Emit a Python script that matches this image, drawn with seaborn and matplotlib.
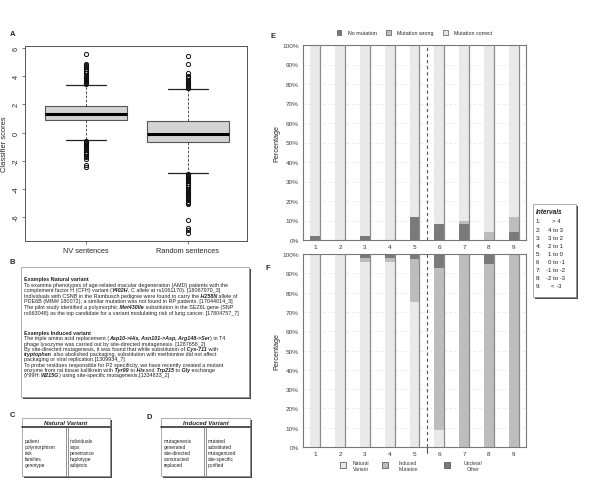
import matplotlib
matplotlib.use("Agg")
import matplotlib.pyplot as plt
import seaborn as sns
import pandas as pd
from matplotlib.patches import Rectangle, Patch

W, H = 600, 481

# ---- panel A: classifier score boxplots (summary)
groups = ["NV sentences", "Random sentences"]
q1 = [0.9, -0.65]
med = [1.35, -0.1]
q3 = [1.9, 0.85]
whislo = [-0.55, -2.9]
whishi = [3.4, 3.1]
fliers_nv = [3.45, 3.5, 3.6, 3.65, 3.75, 3.8, 3.9, 3.95, 4.05, 4.1, 4.2, 4.25,
             4.35, 4.4, 4.5, 4.55, 4.65, 4.7, 4.8, 4.85, 5.6,
             -0.6, -0.65, -0.75, -0.8, -0.9, -0.95, -1.05, -1.1, -1.2, -1.25,
             -1.35, -1.4, -1.5, -1.55, -1.65, -1.75, -1.85, -2.3, -2.45]
fliers_rand = [3.15, 3.2, 3.3, 3.35, 3.45, 3.5, 3.6, 3.65, 3.75, 3.85, 3.95,
               4.05, 4.2, 4.85, 5.45,
               -2.95, -3.0, -3.1, -3.15, -3.25, -3.3, -3.4, -3.45, -3.55, -3.6,
               -3.7, -3.75, -3.85, -3.9, -4.0, -4.05, -4.15, -4.2, -4.3, -4.35,
               -4.45, -4.5, -4.6, -4.65, -4.75, -4.8, -4.9, -5.0, -5.1,
               -6.2, -6.8, -6.95, -7.1]

# ---- panel B: example sentences (b = bold, bi = bold italic)
natural_lines = [
    [("Examples Natural variant", "b")],
    [("To examine phenotypes of age-related macular degeneration (AMD) patients with the", "")],
    [("complement factor H (CFH) variant (", ""), ("Y402H", "bi"), (", C allele at rs1061170). [18067970_3]", "")],
    [("Individuals with CSNB in the Rambusch pedigree were found to carry the ", ""), ("H258N", "bi"), (" allele of", "")],
    [("PDE6B (MIM# 180072); a similar mutation was not found in RP patients. [17044014_3]", "")],
    [("The pilot study identified a polymorphic ", ""), ("Met430Ile", "bi"), (" substitution in the SEZ6L gene (SNP", "")],
    [("rs663048) as the top candidate for a variant modulating risk of lung cancer. [17804757_7]", "")],
]
induced_lines = [
    [("Examples Induced variant", "b")],
    [("The triple amino acid replacement (", ""), ("Asp10->His, Asn101->Asp, Arg148->Ser", "bi"), (") in T4", "")],
    [("phage lysozyme was carried out by site-directed mutagenesis. [1287658_2]", "")],
    [("By site-directed mutagenesis, it was found that while substitution of ", ""), ("Cys-711", "bi"), (" with", "")],
    [("tryptophan", "bi"), (" also abolished packaging, substitution with methionine did not affect", "")],
    [("packaging or viral replication.[1309934_7]", "")],
    [("To probe residues responsible for P2 specificity, we have recently created a mutant", "")],
    [("enzyme from rat tissue kallikrein with ", ""), ("Tyr99", "bi"), (" to ", ""), ("His", "bi"),
     (" and ", ""), ("Trp215", "bi"), (" to ", ""), ("Gly", "bi"), (" exchange", "")],
    [("(Y99H:", ""), ("W215G", "bi"), (") using site-specific mutagenesis.[1334833_2]", "")],
]

# ---- panels C, D: top words
nv_words_1 = ["patient", "polymorphism", "risk", "families", "genotype"]
nv_words_2 = ["individuals", "snps", "penetrance", "haplotype", "subjects"]
im_words_1 = ["mutagenesis", "generated", "site-directed", "constructed", "replaced"]
im_words_2 = ["mutated", "substituted", "mutagenized", "site-specific", "purified"]

# ---- panel E / F: percentages per score interval
intervals = ["1", "2", "3", "4", "5", "6", "7", "8", "9"]
no_mutation = [2, 0, 2, 0, 12, 8, 8, 0, 4]
mutation_wrong = [0, 0, 0, 0, 0, 0, 2, 4, 8]
mutation_correct = [98, 100, 98, 100, 88, 92, 90, 96, 88]

natural_variant = [100, 100, 96, 96, 75, 9, 0, 0, 0]
induced_mutation = [0, 0, 2, 2, 22.5, 84, 100, 95, 100]
unclear_other = [0, 0, 2, 2, 2.5, 7, 0, 5, 0]
f_labels = ["Natural\nVariant", "Induced\nMutation", "Unclear/\nOther"]

interval_names = ["> 4", "4 to 3", "3 to 2", "2 to 1", "1 to 0",
                  "0 to -1", "-1 to -2", "-2 to -3", "< -3"]
interval_keys = ["1:", "2:", "3:", "4:", "5:", "6", "7:", "8:", "9:"]

DARK, MID, LIGHT = "#7a7a7a", "#bdbdbd", "#e9e9e9"

sns.set_theme(style="white")
plt.rcParams["font.family"] = ["Liberation Sans", "DejaVu Sans"]

fig = plt.figure(figsize=(W / 100, H / 100), dpi=100)


def px_axes(x0, y0, x1, y1, **kw):
    return fig.add_axes([x0 / W, 1 - y1 / H, (x1 - x0) / W, (y1 - y0) / H], **kw)


# overlay for boxes / free text, in pixel coordinates
ov = px_axes(0, 0, W, H, zorder=5)
ov.set_xlim(0, W)
ov.set_ylim(H, 0)
ov.axis("off")


def shadow_box(x0, y0, x1, y1, s=2.4):
    ov.add_patch(Rectangle((x0 + s, y0 + s), x1 - x0, y1 - y0, fc="#4a4a4a", ec="none", zorder=1))
    ov.add_patch(Rectangle((x0, y0), x1 - x0, y1 - y0, fc="white", ec="#8a8a8a", lw=0.5, zorder=2))


def rich_line(x, y, parts, size):
    # move trailing spaces to the next chunk so widths add up
    fixed, carry = [], ""
    for s, st in parts:
        s = carry + s
        stripped = s.rstrip(" ")
        carry = s[len(stripped):]
        fixed.append((stripped, st))
    prev = None
    for s, st in fixed:
        kw = dict(fontsize=size, color="#222",
                  fontweight="bold" if "b" in st else "normal",
                  fontstyle="italic" if "i" in st else "normal", zorder=3)
        if prev is None:
            prev = ov.text(x, y, s, va="bottom", ha="left", **kw)
        else:
            prev = ov.annotate(s, xy=(1, 0), xycoords=prev, va="bottom", ha="left", **kw)


# ---------------- A
axA = px_axes(25, 47, 247, 242)
stats = [dict(label=g, q1=a, med=m, q3=b, whislo=lo, whishi=hi, fliers=f)
         for g, a, m, b, lo, hi, f in zip(groups, q1, med, q3, whislo, whishi,
                                         [fliers_nv, fliers_rand])]
axA.bxp(stats, positions=[1, 2], widths=0.8, capwidths=0.4, patch_artist=True,
        boxprops=dict(facecolor="#d3d3d3", edgecolor="#555", lw=0.8),
        medianprops=dict(color="black", lw=2.2),
        whiskerprops=dict(color="#333", lw=0.6, ls=(0, (3, 2))),
        capprops=dict(color="#222", lw=0.9),
        flierprops=dict(marker="o", mfc="none", mec="#111", ms=3.0, mew=0.7))
axA.set_xlim(0.4, 2.58)
axA.set_ylim(-7.7, 6.15)
axA.set_yticks([-6, -4, -2, 0, 2, 4, 6])
axA.set_yticklabels(["-6", "-4", "-2", "0", "2", "4", "6"], rotation=90, va="center")
axA.tick_params(axis="both", labelsize=5.3, length=2.5, width=0.5, color="#444",
                pad=1.5, left=True, bottom=True)
axA.set_ylabel("Classifier scores", fontsize=5.4, labelpad=3)
for sp in axA.spines.values():
    sp.set_color("#555")
    sp.set_linewidth(0.7)

# ---------------- B
shadow_box(21, 268, 249, 398)
y = 282
for line in natural_lines:
    rich_line(24, y, line, 3.9)
    y += 5.6
y = 336
for line in induced_lines:
    rich_line(24, y, line, 3.9)
    y += 5.3


# ---------------- C, D
def word_table(x0, x1, xdiv, title, col1, col2):
    y0, yh, y1 = 419, 428, 477
    shadow_box(x0, y0, x1, y1)
    ov.plot([x0, x1], [yh, yh], color="#333", lw=1.2, zorder=3)
    ov.plot([xdiv - 0.8, xdiv - 0.8], [yh, y1], color="#666", lw=0.5, zorder=3)
    ov.plot([xdiv + 0.8, xdiv + 0.8], [yh, y1], color="#666", lw=0.5, zorder=3)
    ov.text((x0 + x1) / 2, (y0 + yh) / 2 + 0.3, title, fontsize=4.4, fontweight="bold",
            fontstyle="italic", ha="center", va="center", color="#222", zorder=3)
    for i, (a, b) in enumerate(zip(col1, col2)):
        yy = 442 + i * 5.8
        ov.text(x0 + 3, yy, a, fontsize=3.5, va="center", color="#222", zorder=3)
        ov.text(xdiv + 3, yy, b, fontsize=3.5, va="center", color="#222", zorder=3)


word_table(22, 110, 67, "Natural Variant", nv_words_1, nv_words_2)
word_table(161, 250, 205, "Induced Variant", im_words_1, im_words_2)

# panel letters
for letter, lx, ly in [("A", 13, 34), ("B", 12, 263), ("C", 12, 416), ("D", 149, 418),
                       ("E", 273, 37), ("F", 268, 269)]:
    ov.text(lx, ly, letter, fontsize=5.5, fontweight="bold", ha="center", va="center")


# ---------------- E, F
def stacked(ax, layers, colors):
    # layers bottom -> top; draw cumulative totals from the largest down
    totals = []
    run = [0] * len(intervals)
    for vals in layers:
        run = [r + v for r, v in zip(run, vals)]
        totals.append(run)
    for k in range(len(layers) - 1, -1, -1):
        df = pd.DataFrame({"interval": intervals, "pct": totals[k]})
        sns.barplot(data=df, x="interval", y="pct", color=colors[k], saturation=1,
                    width=0.4, errorbar=None, edgecolor="none", ax=ax, zorder=2)
        if k == len(layers) - 1:
            for p in ax.patches:
                ax.vlines(p.get_x() + p.get_width(), 0, p.get_height(), color="#8c8c8c",
                          lw=0.9, zorder=3)
    ax.set_xlim(-0.5, 8.5)
    ax.set_ylim(0, 100)
    ax.set_yticks(range(0, 101, 10))
    ax.set_yticklabels([f"{v}%" for v in range(0, 101, 10)])
    ax.grid(axis="y", color="#e4e4e4", lw=0.5, ls=(0, (4, 3)), zorder=0)
    ax.axvline(4.5, color="#555", lw=0.8, ls=(0, (3, 2.5)), zorder=4)
    ax.tick_params(axis="y", labelsize=4.6, labelcolor="#444", length=0, pad=3)
    ax.tick_params(axis="x", labelsize=4.6, labelcolor="#333", length=0, pad=3)
    ax.set_xlabel("")
    ax.set_ylabel("Percentage", fontsize=5.2, labelpad=1.5)
    for sp in ax.spines.values():
        sp.set_color("#777")
        sp.set_linewidth(0.8)


axE = px_axes(303, 46, 526, 241)
stacked(axE, [no_mutation, mutation_wrong, mutation_correct], [DARK, MID, LIGHT])
axE.legend(handles=[Patch(fc=DARK, ec="#555", lw=0.5, label="No mutation"),
                    Patch(fc=MID, ec="#555", lw=0.5, label="Mutation wrong"),
                    Patch(fc=LIGHT, ec="#555", lw=0.5, label="Mutation correct")],
           loc="center", bbox_to_anchor=(0.5, 1.062), ncol=3, frameon=False,
           fontsize=3.8, handlelength=0.9, handleheight=0.9, columnspacing=1.8,
           handletextpad=1.2, borderaxespad=0)

axF = px_axes(303, 255, 526, 448)
stacked(axF, [natural_variant, induced_mutation, unclear_other], [LIGHT, MID, DARK])
axF.axvline(4.5, ymin=-0.03, ymax=0, color="#555", lw=0.8, clip_on=False)

# key under F: square + centred two-line label
for (sq_x, txt_x), col, lab in zip([(343, 361), (385, 408), (447, 473)],
                                   [LIGHT, MID, DARK], f_labels):
    ov.add_patch(Rectangle((sq_x - 3, 463), 6, 6, fc=col, ec="#444", lw=0.5, zorder=3))
    ov.text(txt_x, 466.5, lab, fontsize=3.6, ha="center", va="center", color="#333",
            linespacing=1.3, zorder=3)

# intervals key
shadow_box(533, 205, 576, 298)
ov.text(536, 213, "Intervals", fontsize=4.7, fontweight="bold", fontstyle="italic",
        va="center", color="#222", zorder=3)
for i, (k, name) in enumerate(zip(interval_keys, interval_names)):
    yy = 222 + i * 8.1
    ov.text(536, yy, k, fontsize=4.3, va="center", color="#222", zorder=3)
    ov.text(556, yy, name, fontsize=4.3, va="center", ha="center", color="#222", zorder=3)

fig.savefig("out.png", dpi=100)
